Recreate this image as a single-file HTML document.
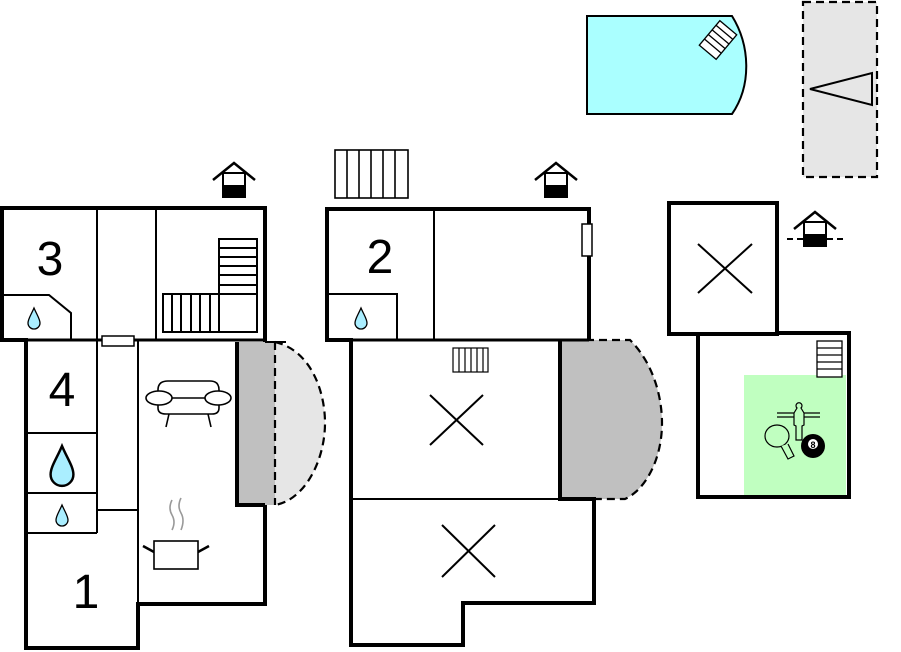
<!DOCTYPE html>
<html><head><meta charset="utf-8"><style>
html,body{margin:0;padding:0;background:#fff;width:901px;height:652px;overflow:hidden}
svg{display:block}
text{font-family:"Liberation Sans",sans-serif;fill:#000}
</style></head><body>
<svg width="901" height="652" viewBox="0 0 901 652" xmlns="http://www.w3.org/2000/svg">
<defs>
<g id="house">
 <polyline points="-21,0 0,-17 21,0" fill="none" stroke="#000" stroke-width="2.5"/>
 <rect x="-11" y="-7" width="22" height="24" fill="#fff" stroke="#000" stroke-width="2"/>
 <rect x="-11" y="5" width="22" height="12" fill="#000"/>
</g>
<g id="drop">
 <path d="M0,-10 C3,-3 6,1 6,5 A6,6 0 0 1 -6,5 C-6,1 -3,-3 0,-10 Z" fill="#aaeeff" stroke="#000" stroke-width="1.3"/>
</g>
</defs>

<!-- ========== LEFT BUILDING ========== -->
<path d="M275,342 C310,350 325,390 325,423 C325,460 305,500 275,505" fill="#e6e6e6" stroke="#000" stroke-width="2.2" stroke-dasharray="8,5"/>
<rect x="237" y="342" width="38" height="163" fill="#c0c0c0"/>
<line x1="275" y1="342" x2="275" y2="505" stroke="#000" stroke-width="2.2" stroke-dasharray="8,5"/>
<line x1="265" y1="342" x2="286" y2="342" stroke="#000" stroke-width="2"/>
<path d="M2,208 H265 V342 M265,505 V604 H138 V648 H26 V340 H2 V206 M237,342 V505 H265" fill="none" stroke="#000" stroke-width="4"/>
<line x1="2" y1="340" x2="265" y2="340" stroke="#000" stroke-width="3"/>
<g stroke="#000" stroke-width="2" fill="none">
 <line x1="97" y1="208" x2="97" y2="533"/>
 <line x1="156" y1="208" x2="156" y2="340"/>
 <line x1="138" y1="340" x2="138" y2="604"/>
 <polyline points="3,295 49,295 71,313 71,340"/>
 <line x1="26" y1="433" x2="97" y2="433"/>
 <line x1="26" y1="493" x2="97" y2="493"/>
 <line x1="26" y1="533" x2="97" y2="533"/>
 <line x1="97" y1="510" x2="138" y2="510"/>
 <rect x="219" y="239" width="38" height="93"/>
 <rect x="163" y="294" width="94" height="38"/>
 <line x1="219" y1="248" x2="257" y2="248"/><line x1="219" y1="257" x2="257" y2="257"/>
 <line x1="219" y1="266" x2="257" y2="266"/><line x1="219" y1="275" x2="257" y2="275"/>
 <line x1="219" y1="285" x2="257" y2="285"/>
 <line x1="172" y1="294" x2="172" y2="332"/><line x1="181" y1="294" x2="181" y2="332"/>
 <line x1="191" y1="294" x2="191" y2="332"/><line x1="200" y1="294" x2="200" y2="332"/>
 <line x1="210" y1="294" x2="210" y2="332"/>
</g>
<rect x="102" y="336" width="32" height="10" fill="#fff" stroke="#000" stroke-width="1.5"/>
<text x="50" y="275" font-size="48" text-anchor="middle">3</text>
<text x="62" y="406" font-size="48" text-anchor="middle">4</text>
<text x="86" y="608" font-size="48" text-anchor="middle">1</text>
<use href="#drop" x="34" y="318"/>
<g transform="translate(62,465) scale(1.9)"><use href="#drop"/></g>
<use href="#drop" x="62" y="515"/>
<g stroke="#000" stroke-width="1.6" fill="#fff">
 <path d="M158,398 V390 Q158,381 168,381 H210 Q219,381 219,390 V398"/>
 <path d="M158,398 H219 V408 Q219,414 212,414 H166 Q158,414 158,408 Z"/>
 <ellipse cx="159" cy="398" rx="13" ry="7"/>
 <ellipse cx="218" cy="398" rx="13" ry="7"/>
 <line x1="169" y1="414" x2="166" y2="427"/><line x1="208" y1="414" x2="211" y2="427"/>
</g>
<g stroke="#000" stroke-width="1.6" fill="#fff">
 <rect x="154" y="541" width="44" height="28"/>
 <line x1="154" y1="552" x2="143" y2="546" stroke-width="2.5"/>
 <line x1="198" y1="552" x2="209" y2="546" stroke-width="2.5"/>
</g>
<g stroke="#999" stroke-width="1.6" fill="none">
 <path d="M172,500 Q168,508 172,515 Q176,522 172,530"/>
 <path d="M181,498 Q177,506 181,513 Q185,520 181,530"/>
</g>
<use href="#house" x="234" y="180"/>

<!-- ========== MIDDLE BUILDING ========== -->
<path d="M560,340 H630 C655,365 662,400 662,423 C662,460 645,490 625,499 H560 Z" fill="#c0c0c0" stroke="#000" stroke-width="2.2" stroke-dasharray="8,5"/>
<path d="M327,209 H589 V340 M560,340 V499 H594 V603 H463 V645 H351 V340 H327 V207" fill="none" stroke="#000" stroke-width="4"/>
<line x1="327" y1="340" x2="589" y2="340" stroke="#000" stroke-width="3"/>
<g stroke="#000" stroke-width="2" fill="none">
 <line x1="434" y1="209" x2="434" y2="340"/>
 <polyline points="327,294 397,294 397,340"/>
 <line x1="351" y1="499" x2="594" y2="499"/>
 <line x1="430" y1="395" x2="483" y2="445"/><line x1="483" y1="395" x2="430" y2="445"/>
 <line x1="442" y1="577" x2="495" y2="525"/><line x1="442" y1="525" x2="495" y2="577"/>
</g>
<rect x="582" y="224" width="10" height="32" fill="#fff" stroke="#000" stroke-width="1.5"/>
<g stroke="#000" stroke-width="1.2" fill="#fff">
 <rect x="453" y="348" width="35" height="24"/>
 <line x1="459" y1="348" x2="459" y2="372"/><line x1="465" y1="348" x2="465" y2="372"/>
 <line x1="471" y1="348" x2="471" y2="372"/><line x1="477" y1="348" x2="477" y2="372"/>
 <line x1="483" y1="348" x2="483" y2="372"/>
</g>
<g stroke="#000" stroke-width="1.6" fill="#fff">
 <rect x="335" y="150" width="73" height="48"/>
 <line x1="347" y1="150" x2="347" y2="198"/><line x1="359" y1="150" x2="359" y2="198"/>
 <line x1="371" y1="150" x2="371" y2="198"/><line x1="383" y1="150" x2="383" y2="198"/>
 <line x1="395" y1="150" x2="395" y2="198"/>
</g>
<text x="380" y="273" font-size="48" text-anchor="middle">2</text>
<use href="#drop" x="361" y="318"/>
<use href="#house" x="556" y="180"/>

<!-- ========== POOL ========== -->
<path d="M587,16 H732 C750,45 752,85 732,114 H587 Z" fill="#aaffff" stroke="#000" stroke-width="2"/>
<g transform="translate(718,40) rotate(40)" stroke="#000" stroke-width="1.3" fill="#fff">
 <rect x="-11" y="-16" width="22" height="32"/>
 <line x1="-11" y1="-10" x2="11" y2="-10"/><line x1="-11" y1="-4" x2="11" y2="-4"/>
 <line x1="-11" y1="2" x2="11" y2="2"/><line x1="-11" y1="8" x2="11" y2="8"/>
</g>
<rect x="803" y="2" width="74" height="175" fill="#e6e6e6" stroke="#000" stroke-width="2.2" stroke-dasharray="8,5"/>
<polygon points="810,89 872,73 872,105" fill="none" stroke="#000" stroke-width="2"/>

<!-- ========== ANNEX ========== -->
<rect x="744" y="375" width="102" height="121" fill="#c0ffc0"/>
<path d="M669,203 H777 V334 H669 Z" fill="none" stroke="#000" stroke-width="4"/>
<path d="M698,334 V497 H849 V333 H777" fill="none" stroke="#000" stroke-width="4"/>
<g stroke="#000" stroke-width="2">
 <line x1="698" y1="244" x2="752" y2="293"/><line x1="752" y1="244" x2="698" y2="293"/>
</g>
<g stroke="#000" stroke-width="1.3" fill="#fff">
 <rect x="817" y="341" width="25" height="36"/>
 <line x1="817" y1="348" x2="842" y2="348"/><line x1="817" y1="355" x2="842" y2="355"/>
 <line x1="817" y1="362" x2="842" y2="362"/><line x1="817" y1="369" x2="842" y2="369"/>
</g>
<g stroke="#000" stroke-width="1.2" fill="none">
 <line x1="777" y1="413" x2="820" y2="413"/><line x1="777" y1="417" x2="820" y2="417"/>
 <path d="M797,408 a3,3 0 1 1 4,0 l3,5 v12 l-2,1 v14 h-6 v-14 l-2,-1 v-12 z" fill="#c0ffc0"/>
 <ellipse cx="777" cy="436" rx="12" ry="11" fill="#c0ffc0"/>
 <path d="M781,446 l7,13 l6,-3 l-6,-12" fill="#c0ffc0"/>
</g>
<circle cx="813" cy="446" r="12" fill="#000"/>
<circle cx="813" cy="444" r="5" fill="#fff"/>
<text x="813" y="448" font-size="9" text-anchor="middle" font-weight="bold">8</text>
<g>
 <line x1="787" y1="239" x2="844" y2="239" stroke="#000" stroke-width="2" stroke-dasharray="6,4"/>
 <rect x="805" y="230" width="20" height="20" fill="#fff"/>
 <use href="#house" x="815" y="229"/>
</g>
</svg>
</body></html>
